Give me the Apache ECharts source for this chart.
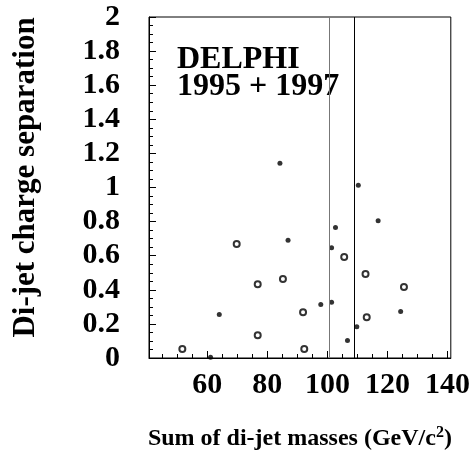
<!DOCTYPE html>
<html>
<head>
<meta charset="utf-8">
<script src="https://cdn.jsdelivr.net/npm/echarts@6/dist/echarts.min.js"></script>
<style>
html, body { margin: 0; padding: 0; background: #fff; }
#chart { width: 473px; height: 463px; }
</style>
</head>
<body>
<div id="chart"></div>
<script>
// filled points
var filledMass = [84.2, 110.3, 116.9, 102.7, 86.9, 101.4, 97.8, 101.4, 64.0, 124.4, 109.8, 106.7, 61.1];
var filledSep  = [1.142, 1.013, 0.805, 0.766, 0.690, 0.646, 0.314, 0.327, 0.255, 0.273, 0.184, 0.102, 0.004];
// open points
var openMass = [69.8, 105.6, 112.7, 85.2, 76.8, 125.5, 91.9, 113.1, 76.8, 51.7, 92.3];
var openSep  = [0.668, 0.593, 0.492, 0.463, 0.433, 0.417, 0.268, 0.239, 0.133, 0.053, 0.053];
// mass window lines
var cutLines = [100.7, 109.0];
var xMajorTicks = [60, 80, 100, 120, 140];
var xMinorTicks = [45, 50, 55, 65, 70, 75, 85, 90, 95, 105, 110, 115, 125, 130, 135];

var font = 'Liberation Serif';

function pairs(xs, ys) {
  var out = [];
  for (var i = 0; i < xs.length; i++) out.push([xs[i], ys[i]]);
  return out;
}

var myChart = echarts.init(document.getElementById('chart'));
var option = {
  animation: false,
  grid: {
    left: 149,
    right: 21,
    top: 17,
    bottom: 105,
    show: true,
    borderColor: '#000',
    borderWidth: 1
  },
  xAxis: [{
    type: 'value',
    min: 40.6,
    max: 141.1,
    position: 'bottom',
    splitLine: { show: false },
    axisLine: { show: true, lineStyle: { color: '#000', width: 1 } },
    axisTick: { inside: true, length: 7, customValues: xMajorTicks, lineStyle: { color: '#000' } },
    axisLabel: {
      customValues: xMajorTicks,
      margin: 12,
      color: '#000',
      fontFamily: font,
      fontWeight: 'bold',
      fontSize: 30
    },
    name: 'Sum of di-jet masses (GeV/c{sup|2})',
    nameLocation: 'middle',
    nameGap: 67,
    nameTextStyle: {
      color: '#000',
      fontFamily: font,
      fontWeight: 'bold',
      fontSize: 24,
      rich: {
        sup: { fontFamily: font, fontWeight: 'bold', fontSize: 16, verticalAlign: 'top', padding: [0, 0, 12, 0] }
      }
    }
  }, {
    type: 'value',
    min: 40.6,
    max: 141.1,
    position: 'bottom',
    splitLine: { show: false },
    axisLine: { show: false },
    axisTick: { inside: true, length: 4, customValues: xMinorTicks, lineStyle: { color: '#000' } },
    axisLabel: { show: false }
  }],
  yAxis: {
    type: 'value',
    min: 0,
    max: 2,
    interval: 0.2,
    splitLine: { show: false },
    axisLine: { show: true, lineStyle: { color: '#000', width: 1 } },
    axisTick: { inside: true, length: 7, lineStyle: { color: '#000' } },
    minorTick: { show: true, splitNumber: 4, length: 4, lineStyle: { color: '#000' } },
    axisLabel: {
      margin: 29,
      padding: [4, 0, 0, 0],
      color: '#000',
      fontFamily: font,
      fontWeight: 'bold',
      fontSize: 30
    },
    name: 'Di-jet charge separation',
    nameLocation: 'middle',
    nameRotate: 90,
    nameGap: 108,
    nameTextStyle: {
      color: '#000',
      fontFamily: font,
      fontWeight: 'bold',
      fontSize: 31,
      padding: [0, 0, 0, 20]
    }
  },
  graphic: [{
    type: 'text',
    left: 177,
    top: 44,
    style: { text: 'DELPHI', fill: '#000', font: 'bold 32px "Liberation Serif"' }
  }, {
    type: 'text',
    left: 177,
    top: 71,
    style: { text: '1995 + 1997', fill: '#000', font: 'bold 32px "Liberation Serif"' }
  }],
  series: [{
    name: 'filled',
    type: 'scatter',
    xAxisIndex: 0,
    symbol: 'circle',
    symbolSize: 5,
    itemStyle: { color: '#000' },
    data: pairs(filledMass, filledSep),
    markLine: {
      silent: true,
      symbol: 'none',
      label: { show: false },
      data: [
        { xAxis: cutLines[0], lineStyle: { color: '#777', width: 1, type: 'solid' } },
        { xAxis: cutLines[1], lineStyle: { color: '#000', width: 1, type: 'solid' } }
      ]
    }
  }, {
    name: 'open',
    type: 'scatter',
    xAxisIndex: 0,
    symbol: 'emptyCircle',
    symbolSize: 6,
    itemStyle: { color: '#000', borderWidth: 1 },
    data: pairs(openMass, openSep)
  }]
};
myChart.setOption(option);
</script>
</body>
</html>
